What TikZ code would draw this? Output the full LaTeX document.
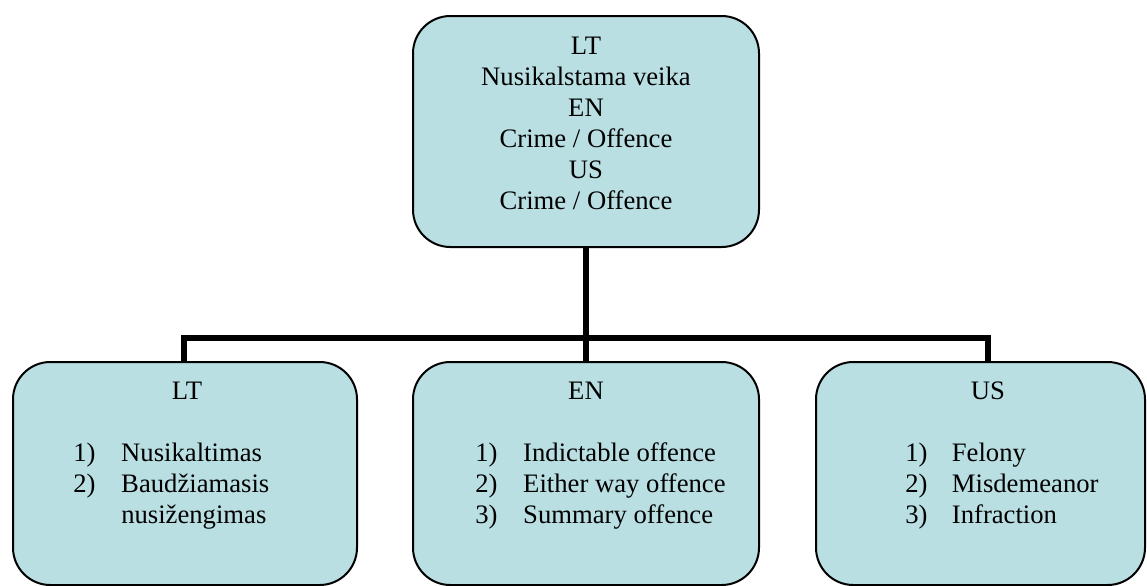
\documentclass[tikz,border=0pt]{standalone}
\usepackage{fontspec}
\setmainfont{Liberation Serif}
\usetikzlibrary{positioning}
\definecolor{boxfill}{RGB}{185,223,227}

\begin{document}
\begin{tikzpicture}[x=0.75pt, y=-0.75pt,
        box/.style={draw, line width=1.5pt, fill=boxfill, rounded corners=28pt, inner sep=0pt, minimum height=167.25pt},
        conn/.style={line width=4.5pt},
        txt/.style={font=\fontsize{20}{23.25}\selectfont, inner sep=0pt}]
        \useasboundingbox (0,0) rectangle (1147,586);

        % boxes
        \node[box, minimum width=259.5pt, minimum height=173.25pt] (crime) at (586,131.5) {};
        \node[box, minimum width=258pt] (lt) at (185,473.5) {};
        \node[box, minimum width=259.5pt] (en) at (586,473.5) {};
        \node[box, minimum width=246.75pt] (us) at (980.5,473.5) {};

        % connectors
        \coordinate (bus) at (586,338);
        \draw[conn] (crime.south) -- (bus);
        \draw[conn] ([xshift=-0.75pt]lt.north) |- (bus) -| ([xshift=5.6pt]us.north);
        \draw[conn] (bus) -- (en.north);

        % texts
        \node[txt, anchor=base] (crimetext) at (586,54) {\begin{tabular}[t]{@{}c@{}}LT\\ Nusikalstama veika\\ EN\\ Crime / Offence\\ US\\ Crime / Offence\end{tabular}};

        \node[txt, anchor=base] (lthead) at (187,399) {LT};
        \node[txt, anchor=base west] (ltlist) at (73,461) {\begin{tabular}[t]{@{}p{36pt}@{}l@{}}1) & Nusikaltimas\\ 2) & Baudžiamasis\\ & nusižengimas\end{tabular}};

        \node[txt, anchor=base] (enhead) at (586,399) {EN};
        \node[txt, anchor=base west] (enlist) at (475,461) {\begin{tabular}[t]{@{}p{36pt}@{}l@{}}1) & Indictable offence\\ 2) & Either way offence\\ 3) & Summary offence\end{tabular}};

        \node[txt, anchor=base] (ushead) at (988,399) {US};
        \node[txt, anchor=base west] (uslist) at (905,461) {\begin{tabular}[t]{@{}p{35pt}@{}l@{}}1) & Felony\\ 2) & Misdemeanor\\ 3) & Infraction\end{tabular}};

    \end{tikzpicture}
\end{document}
